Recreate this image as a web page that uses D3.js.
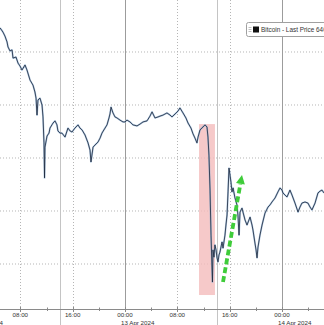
<!DOCTYPE html>
<html>
<head>
<meta charset="utf-8">
<script src="https://cdn.jsdelivr.net/npm/d3@7"></script>
<style>
  body { margin: 0; background: #fff; }
  svg { display: block; font-family: "Liberation Sans", Arial, sans-serif; }
</style>
</head>
<body>
<svg id="chart"></svg>
<script>
/* CONSTANTS AND GLOBALS */
const width = 324,
  height = 325,
  axisY = 309;

// Bitcoin last price (day of April, time, USD)
const times = [
  "12 04:54","12 05:21","12 05:39","12 05:58","12 06:07","12 06:25","12 06:44","12 06:53","12 07:20","12 07:39",
  "12 07:57","12 08:15","12 08:43","12 09:01","12 09:29","12 09:56","12 10:14","12 10:24","12 10:33","12 10:42",
  "12 11:00","12 11:19","12 11:28","12 11:37","12 11:42","12 11:46","12 12:05","12 12:23","12 12:32","12 12:50",
  "12 13:00","12 13:18","12 13:36","12 13:45","12 14:04","12 14:22","12 14:50","12 15:17","12 15:36","12 15:54",
  "12 16:21","12 16:49","12 17:07","12 17:26","12 17:53","12 18:21","12 18:39","12 18:48","12 19:07","12 19:25",
  "12 19:52","12 20:11","12 20:29","12 20:57","12 21:15","12 21:33","12 21:42","12 21:52","12 22:10","12 22:28",
  "12 22:47","12 23:14","12 23:42","13 00:00","13 00:18","13 00:46","13 01:13","13 01:50","13 02:18","13 02:45",
  "13 03:22","13 03:49","13 04:08","13 04:35","13 05:03","13 05:21","13 05:49","13 06:25","13 06:53","13 07:11",
  "13 07:39","13 08:06","13 08:24","13 08:52","13 09:19","13 09:38","13 10:05","13 10:24","13 10:42","13 11:00",
  "13 11:10","13 11:28","13 11:55","13 12:14","13 12:32","13 12:41","13 12:50","13 13:00","13 13:09","13 13:18",
  "13 13:22","13 13:27","13 13:36","13 13:45","13 13:55","13 14:04","13 14:13","13 14:22","13 14:31","13 14:50",
  "13 14:59","13 15:17","13 15:26","13 15:36","13 15:45","13 15:54","13 16:03","13 16:12","13 16:21","13 16:31",
  "13 16:40","13 16:49","13 17:07","13 17:16","13 17:26","13 17:35","13 17:53","13 18:02","13 18:21","13 18:39",
  "13 19:07","13 19:25","13 19:34","13 19:52","13 20:02","13 20:11","13 20:20","13 20:38","13 20:57","13 21:24",
  "13 21:52","13 22:10","13 22:28","13 22:56","13 23:23","13 23:42","14 00:00","14 00:09","14 00:28","14 00:46",
  "14 01:13","14 01:32","14 01:59","14 02:27","14 02:45","14 03:03","14 03:31","14 03:58","14 04:17","14 04:35",
  "14 05:03","14 05:30","14 05:49","14 06:07","14 06:25"
];
const prices = [
  70910,70750,70600,70380,70190,70040,70080,69770,69810,69580,
  69470,69320,69510,69320,68940,68750,68490,68260,67620,68190,
  68260,68000,67550,66570,65250,66410,66830,66940,67130,67250,
  67320,67400,67250,67020,66940,66940,66790,67130,67020,66980,
  67130,67250,67130,67060,66870,66570,66300,65850,66410,66490,
  66600,66750,66940,67130,67250,67510,67660,67920,67700,67550,
  67510,67430,67360,67360,67430,67360,67250,67210,67280,67360,
  67400,67580,67740,67510,67550,67580,67620,67700,67620,67550,
  67660,67770,67890,67700,67510,67320,67130,66910,66750,66570,
  66790,67060,67170,67250,67170,66790,66110,64790,63090,61850,
  61320,62530,62260,62720,62530,62230,62080,62340,62450,62830,
  62600,63090,63470,63850,64720,65620,65360,65090,64720,64870,
  64680,64490,64230,63850,63090,63960,64110,63960,63660,63470,
  63770,63470,63280,62790,62530,62230,62640,63090,63470,63920,
  64150,64230,64340,64490,64720,64870,64790,64680,64600,64530,
  64790,64600,64300,63960,64150,64300,64340,64300,64150,64040,
  64300,64680,64750,64790,64680
];

// axis / grid values
const gridPrices = [62000, 64000, 66000, 68000, 70000];
const labelTimes = ["12 08:00","12 16:00","13 00:00","13 08:00","13 16:00","14 00:00"];
const minorTimes = ["12 12:00","12 20:00","13 04:00","13 12:00","13 20:00","14 04:00"];
const sessionTimes = ["12 14:00","13 14:00"];
const dateLabels = ["12 Apr 2024","13 Apr 2024","14 Apr 2024"];
const dateTimes = ["12 00:00","13 00:00","14 00:00"];

// annotations
const highlight = { from: "13 11:19", to: "13 13:45", top: 67280, bottom: 60830 };
const arrow = { from: ["13 14:59", 61320], to: ["13 17:53", 65360] };
const legendText = "Bitcoin - Last Price 64016.00";

const parse = s => {
  const [d, hm] = s.split(" ");
  const [h, m] = hm.split(":");
  return new Date(2024, 3, +d, +h, +m);
};

const data = times.map((t, i) => ({ date: parse(t), price: prices[i] }));

/* SCALES */
const xScale = d3.scaleTime()
  .domain([new Date(2024, 3, 12, 4, 53, 30), new Date(2024, 3, 14, 6, 25, 13)])
  .range([0, width]);

const yScale = d3.scaleLinear()
  .domain([60302, 71962])
  .range([axisY, 0]);

const svg = d3.select("#chart")
  .attr("width", width)
  .attr("height", height);

// + GRID
svg.selectAll(".hgrid")
  .data(gridPrices)
  .join("line")
  .attr("class", "hgrid")
  .attr("x1", 0).attr("x2", width)
  .attr("y1", d => yScale(d)).attr("y2", d => yScale(d))
  .attr("stroke", "#b5b5b5")
  .attr("stroke-width", 1)
  .attr("stroke-dasharray", "1,2");

svg.selectAll(".vgrid")
  .data(labelTimes.filter(t => !t.endsWith("00:00")).map(parse))
  .join("line")
  .attr("class", "vgrid")
  .attr("x1", d => Math.round(xScale(d)) + 0.5).attr("x2", d => Math.round(xScale(d)) + 0.5)
  .attr("y1", 0).attr("y2", axisY)
  .attr("stroke", "#b5b5b5")
  .attr("stroke-dasharray", "1,2");

svg.selectAll(".dayline")
  .data(dateTimes.map(parse))
  .join("line")
  .attr("class", "dayline")
  .attr("x1", d => Math.round(xScale(d)) + 0.5).attr("x2", d => Math.round(xScale(d)) + 0.5)
  .attr("y1", 0).attr("y2", axisY)
  .attr("stroke", "#9c9c9c");

svg.selectAll(".session")
  .data(sessionTimes.map(parse))
  .join("line")
  .attr("class", "session")
  .attr("x1", d => Math.round(xScale(d)) + 0.5).attr("x2", d => Math.round(xScale(d)) + 0.5)
  .attr("y1", 0).attr("y2", height)
  .attr("stroke", "#c4c4c4");

// + HIGHLIGHT BOX
svg.append("rect")
  .attr("x", xScale(parse(highlight.from)))
  .attr("y", yScale(highlight.top))
  .attr("width", xScale(parse(highlight.to)) - xScale(parse(highlight.from)))
  .attr("height", yScale(highlight.bottom) - yScale(highlight.top))
  .attr("fill", "#f4bcbc")
  .attr("opacity", 0.8);

// + LINE
const lineGen = d3.line()
  .x(d => xScale(d.date))
  .y(d => yScale(d.price));

svg.append("path")
  .datum(data)
  .attr("fill", "none")
  .attr("stroke", "#8fb0d4")
  .attr("stroke-width", 1.8)
  .attr("stroke-linejoin", "round")
  .attr("opacity", 0.7)
  .attr("d", lineGen);

svg.append("path")
  .datum(data)
  .attr("fill", "none")
  .attr("stroke", "#1a263a")
  .attr("stroke-width", 0.8)
  .attr("d", lineGen);

// + ARROW
const ax1 = xScale(parse(arrow.from[0])), ay1 = yScale(arrow.from[1]);
const ax2 = xScale(parse(arrow.to[0])), ay2 = yScale(arrow.to[1]);
const ang = Math.atan2(ay2 - ay1, ax2 - ax1);
const headLen = 9, headW = 4.5;
const bx = ax2 - headLen * Math.cos(ang), by = ay2 - headLen * Math.sin(ang);

svg.append("line")
  .attr("x1", ax1).attr("y1", ay1)
  .attr("x2", bx).attr("y2", by)
  .attr("stroke", "#3fcc3a")
  .attr("stroke-width", 3.8)
  .attr("stroke-dasharray", "6,3");

svg.append("path")
  .attr("d", `M${ax2},${ay2}
    L${bx + headW * Math.sin(ang)},${by - headW * Math.cos(ang)}
    L${bx - headW * Math.sin(ang)},${by + headW * Math.cos(ang)}Z`)
  .attr("fill", "#3fcc3a");

// + AXIS
const xAxisGroup = svg.append("g")
  .attr("transform", `translate(0, ${axisY})`);

xAxisGroup.append("line")
  .attr("x1", 0).attr("x2", width)
  .attr("y1", 0.5).attr("y2", 0.5)
  .attr("stroke", "#8a8a8a");

xAxisGroup.selectAll(".minor")
  .data(minorTimes.map(parse))
  .join("line")
  .attr("class", "minor")
  .attr("x1", d => Math.round(xScale(d)) + 0.5).attr("x2", d => Math.round(xScale(d)) + 0.5)
  .attr("y1", -1.5).attr("y2", 2)
  .attr("stroke", "#8a8a8a");

xAxisGroup.selectAll(".major")
  .data(labelTimes.map(parse))
  .join("line")
  .attr("class", "major")
  .attr("x1", d => Math.round(xScale(d)) + 0.5).attr("x2", d => Math.round(xScale(d)) + 0.5)
  .attr("y1", -2).attr("y2", 3)
  .attr("stroke", "#8a8a8a");

xAxisGroup.selectAll(".tlabel")
  .data(labelTimes.map(parse))
  .join("text")
  .attr("class", "tlabel")
  .attr("x", d => xScale(d))
  .attr("y", 8)
  .attr("text-anchor", "middle")
  .attr("font-size", 6.2)
  .attr("fill", "#333")
  .text(d3.timeFormat("%H:%M"));

xAxisGroup.selectAll(".dlabel")
  .data(dateTimes.map(parse))
  .join("text")
  .attr("class", "dlabel")
  .attr("x", (d, i) => i === 0 ? 3 : xScale(d) - 4)
  .attr("y", 15.5)
  .attr("text-anchor", (d, i) => i === 0 ? "end" : "start")
  .attr("font-size", 6.2)
  .attr("fill", "#333")
  .text((d, i) => dateLabels[i]);

// + LEGEND
const legend = svg.append("g").attr("transform", "translate(246, 22)");

legend.append("rect")
  .attr("x", 0.5).attr("y", 0.5)
  .attr("width", 100).attr("height", 14)
  .attr("rx", 2)
  .attr("fill", "#fff")
  .attr("stroke", "#a0a0a0");

[5.5, 7.5, 9.5].forEach(y => {
  legend.append("line")
    .attr("x1", 2.5).attr("x2", 5.5)
    .attr("y1", y).attr("y2", y)
    .attr("stroke", "#b0b0b0")
    .attr("stroke-width", 0.8);
});

legend.append("rect")
  .attr("x", 7).attr("y", 4.5)
  .attr("width", 6).attr("height", 6)
  .attr("fill", "#111");

legend.append("text")
  .attr("x", 15).attr("y", 10)
  .attr("font-size", 6.4)
  .attr("fill", "#333")
  .text(legendText);
</script>
</body>
</html>
